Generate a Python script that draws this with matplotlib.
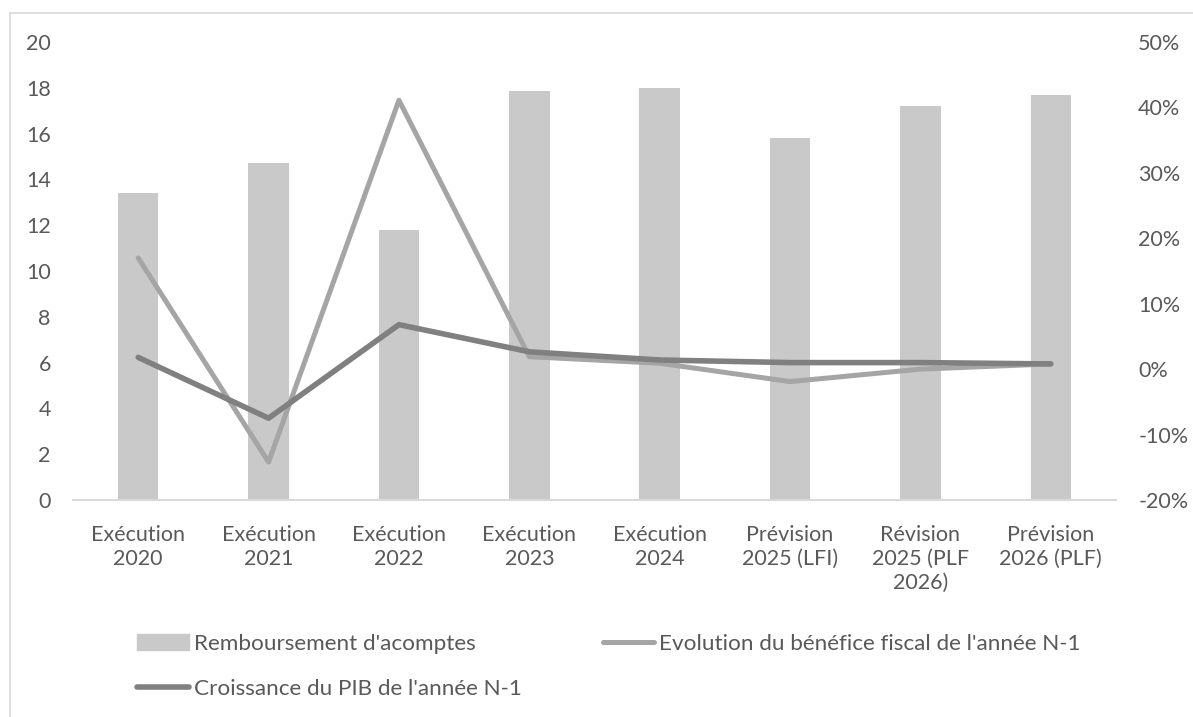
import matplotlib
matplotlib.use("Agg")
import matplotlib.pyplot as plt
import numpy as np
from matplotlib.lines import Line2D
from matplotlib.patches import Patch
from matplotlib.ticker import FuncFormatter

plt.rcParams['font.family'] = ['Lato', 'DejaVu Sans']

categories = ["Exécution\n2020", "Exécution\n2021", "Exécution\n2022", "Exécution\n2023",
              "Exécution\n2024", "Prévision\n2025 (LFI)", "Révision\n2025 (PLF\n2026)",
              "Prévision\n2026 (PLF)"]
remboursement = [13.4, 14.7, 11.8, 17.87, 18.0, 15.8, 17.2, 17.67]          # Md€
benefice_fiscal = [17.0, -14.2, 41.1, 1.9, 0.9, -1.9, 0.0, 0.8]             # %
croissance_pib = [1.8, -7.5, 6.8, 2.65, 1.4, 1.0, 1.0, 0.8]                 # %

label_bar = "Remboursement d'acomptes"
label_benef = "Evolution du bénéfice fiscal de l'année N-1"
label_pib = "Croissance du PIB de l'année N-1"

W, H = 1193, 717
txt = '#595959'
fs = 15.5
c_bar, c_benef, c_pib = '#c9c9c9', '#a5a5a5', '#808080'
lw_benef, lw_pib = 3.6, 4.0

fig = plt.figure(figsize=(W / 100, H / 100), dpi=100)
ax = fig.add_axes([73 / W, 1 - 500 / H, (1116 - 73) / W, (500 - 42) / H])
ax2 = ax.twinx()

x = np.arange(len(categories))
ax.bar(x, remboursement, width=0.31, color=c_bar, zorder=2)
ax2.plot(x, benefice_fiscal, color=c_benef, lw=lw_benef, solid_capstyle='round',
         solid_joinstyle='round', zorder=3)
ax2.plot(x, croissance_pib, color=c_pib, lw=lw_pib, solid_capstyle='round',
         solid_joinstyle='round', zorder=4)

ax.set_xlim(-0.5, len(categories) - 0.5)
ax.set_ylim(0, 20)
ax.set_yticks(np.arange(0, 21, 2))
ax2.set_ylim(-20, 50)
ax2.set_yticks(np.arange(-20, 51, 10))
ax2.yaxis.set_major_formatter(FuncFormatter(lambda v, p: f"{v:.0f}%"))

ax.set_xticks(x)
ax.set_xticklabels(categories, linespacing=1.25)

for a in (ax, ax2):
    for s in a.spines.values():
        s.set_visible(False)
    a.tick_params(length=0, labelsize=fs, labelcolor=txt)
ax.spines['bottom'].set_visible(True)
ax.spines['bottom'].set_color('#d9d9d9')
ax.spines['bottom'].set_linewidth(1.5)
ax.tick_params(axis='y', pad=16)
ax.tick_params(axis='x', pad=18)
ax2.tick_params(axis='y', pad=16)
ax.set_zorder(ax2.get_zorder() - 1)
ax2.patch.set_visible(False)

# column-major fill: bar + PIB in the first column, bénéfice in the second
handles = [Patch(color=c_bar, label=label_bar),
           Line2D([], [], color=c_pib, lw=lw_pib, solid_capstyle='round', label=label_pib),
           Line2D([], [], color=c_benef, lw=lw_benef, solid_capstyle='round', label=label_benef)]
leg = fig.legend(handles=handles, loc='upper left', bbox_to_anchor=(137 / W, 1 - 634 / H),
                 ncol=2, frameon=False, fontsize=16.2, labelcolor=txt,
                 handlelength=2.3, handletextpad=0.22, columnspacing=3.6,
                 labelspacing=1.1, borderaxespad=0, borderpad=0)

# light frame around the chart area
fig.add_artist(Line2D([10 / W, 10 / W], [0, 1 - 13 / H], color='#d9d9d9', lw=1.2))
fig.add_artist(Line2D([10 / W, 1], [1 - 13 / H, 1 - 13 / H], color='#d9d9d9', lw=1.2))

fig.savefig('out.png', dpi=100, facecolor='white')
